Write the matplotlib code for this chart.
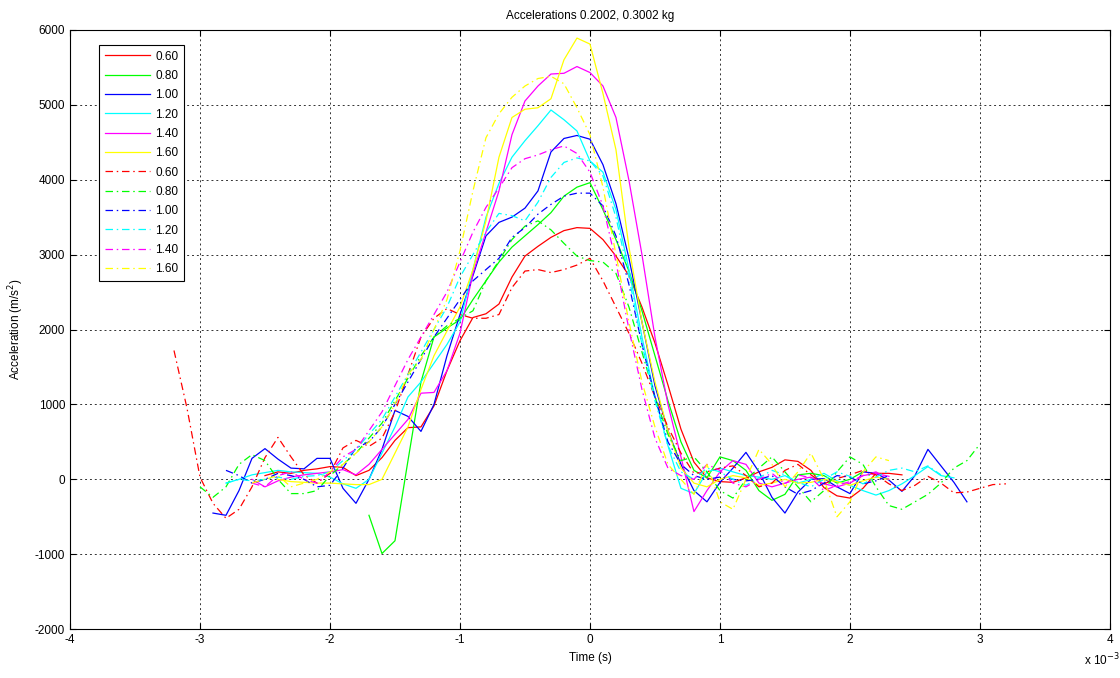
import numpy as np
import matplotlib
matplotlib.use("Agg")
import matplotlib.pyplot as plt

plt.rcParams['font.family'] = ['Liberation Sans', 'DejaVu Sans']
plt.rcParams['axes.unicode_minus'] = False

# sample step of the recordings, in ms
STEP = 0.1

labels = ['0.60', '0.80', '1.00', '1.20', '1.40', '1.60']
colors = ['#ff0000', '#00ff00', '#0000ff', '#00ffff', '#ff00ff', '#ffff00']

# first series set (solid lines): start time (ms) and accelerations (m/s^2)
start_a = [-2.5, -1.7, -2.9, -2.8, -2.6, -2.4]

acc_a_060 = [50, 100, 80, 120, 140, 170, 160, 50, 120, 290, 520, 690, 700, 980, 1450,
             1850, 2160, 2210, 2340, 2700, 2980, 3110, 3230, 3320, 3360, 3350, 3200,
             2980, 2720, 2300, 1820, 1260, 670, 230, 20, -30, -40, 20, 100, 160, 260,
             240, 120, -110, -220, -250, -120, 80, 80, 60]
acc_a_080 = [-480, -990, -820, 250, 1300, 1900, 2020, 2130, 2400, 2650, 2900, 3100,
             3250, 3400, 3560, 3780, 3900, 3960, 3600, 3200, 2780, 2250, 1650, 1050,
             500, 120, 20, 300, 250, 120, -150, -280, -200, 60, 80, 50, -50, 0, 100]
acc_a_100 = [-450, -480, -150, 280, 410, 270, 150, 140, 280, 280, -120, -320, 0, 400,
             920, 840, 640, 1000, 1650, 2200, 2720, 3250, 3430, 3500, 3620, 3850, 4370,
             4550, 4590, 4540, 4200, 3680, 2950, 2100, 1250, 650, 200, -150, -300, -40,
             150, 360, 100, -240, -450, -170, 0, 10, -100, -190, 100, 80, -10, -160, 50,
             400, 180, -40, -300]
acc_a_120 = [-50, 0, 60, 90, 120, 100, 90, 80, 30, -60, -120, 0, 350, 700, 1100, 1300,
             1550, 1800, 2100, 2800, 3500, 3950, 4300, 4520, 4720, 4930, 4800, 4650,
             4250, 4100, 3600, 2800, 1900, 1100, 450, -120, -190, 100, 150, 100, 50, 30,
             0, 50, -50, 0, 80, -20, -80, -150, -210, -150, -60, 50, 170, 50, 20]
acc_a_140 = [0, -100, -20, 30, 60, 80, 100, 130, 60, 200, 400, 600, 800, 1150, 1160,
             1450, 1950, 2750, 3300, 3850, 4600, 5050, 5250, 5410, 5420, 5510, 5430,
             5250, 4830, 3990, 3000, 1900, 1000, 300, -430, -150, 100, 250, 200, -50,
             -100, -50, 0, 30, -60, -100, -50, 50, 80, 40]
acc_a_160 = [0, -30, -40, -50, -50, -60, -70, -70, 0, 350, 700, 1200, 1650, 1980, 2300,
             2800, 3450, 4300, 4830, 4940, 4960, 5080, 5600, 5890, 5810, 5150, 4400,
             3100, 2100, 1300, 650, 150, -50, -100, 0, 50, 20, -80, -50, 0, -50, -40, 0,
             -30, -80, -20, 30, 0]

# second series set (dash-dot lines)
start_b = [-3.2, -3.0, -2.8, -2.8, -2.6, -2.6]

acc_b_060 = [1720, 950, 30, -320, -520, -400, -100, 290, 560, 300, 60, -50, 80, 420,
             520, 440, 550, 900, 1400, 1900, 2150, 2280, 2200, 2150, 2150, 2200, 2560,
             2780, 2800, 2760, 2800, 2860, 2950, 2650, 2300, 1950, 1550, 1100, 700, 350,
             80, 100, 150, 180, 50, -100, -50, 120, 200, 60, -60, 10, 60, 120, 60, -60,
             -150, -80, 40, -50, -180, -170, -120, -70, -60]
acc_b_080 = [-100, -240, -100, 200, 330, 250, 0, -190, -190, -150, 50, 200, 350, 550,
             750, 1050, 1350, 1650, 1900, 2050, 2150, 2250, 2650, 2920, 3200, 3380, 3450,
             3330, 3150, 2980, 2920, 2900, 2750, 2300, 1700, 1100, 600, 250, 300, 100,
             -150, -250, 0, 150, 300, 100, -100, -300, -150, 100, 300, 200, -100, -350,
             -400, -300, -200, -50, 150, 250, 470]
acc_b_100 = [120, 50, -50, 0, 80, 50, 0, -100, -80, 150, 420, 500, 700, 1000, 1300,
             1600, 1900, 2150, 2400, 2650, 2800, 2950, 3230, 3360, 3540, 3670, 3780,
             3820, 3820, 3650, 3250, 2600, 1800, 1100, 500, 200, 50, 0, 30, 0, -20, 0,
             50, -100, -200, -150, -50, 50, 30, -60, -20, 50]
acc_b_120 = [-50, 0, -20, 0, 30, 0, 40, 50, 100, 250, 400, 600, 800, 1100, 1400, 1700,
             2000, 2300, 2700, 3000, 3300, 3550, 3520, 3450, 3700, 4030, 4230, 4290,
             4250, 4050, 3500, 2700, 1800, 1050, 450, 100, 0, 150, 100, 0, -80, 20, 120,
             60, -40, -100, 0, 100, 40, -60, 30, 120, 150, 100, 180, 60]
acc_b_140 = [-50, -100, 50, 100, 0, -50, 100, 300, 400, 650, 900, 1250, 1600, 1900,
             2200, 2500, 2900, 3300, 3630, 3890, 4160, 4280, 4330, 4400, 4450, 4350,
             4100, 3650, 2900, 2000, 1200, 550, 150, 50, 0, 200, 120, -50, -100, 0, 80,
             -60, 60, 20, -150, -80, -30, 50, 100, 0]
acc_b_160 = [-50, 0, 50, -100, -50, 0, 100, 200, 350, 500, 700, 1000, 1400, 1600, 2000,
             2400, 3050, 3850, 4560, 4880, 5100, 5250, 5350, 5380, 5280, 4960, 4600,
             3900, 3000, 2100, 1300, 700, 200, 0, -200, 200, -300, -400, 0, 400, 200,
             -100, 100, 350, 0, -500, -300, 100, 300, 250]

series_a = [acc_a_060, acc_a_080, acc_a_100, acc_a_120, acc_a_140, acc_a_160]
series_b = [acc_b_060, acc_b_080, acc_b_100, acc_b_120, acc_b_140, acc_b_160]

fig = plt.figure(figsize=(11.2, 6.78), dpi=100)
ax = fig.add_axes([0.0625, 0.072, 0.9285, 0.884])

dashdot = (0, (6, 3, 1.2, 3))

for t0, acc, c, lab in zip(start_a, series_a, colors, labels):
    t = (t0 + STEP * np.arange(len(acc))) * 1e-3
    ax.plot(t, acc, color=c, lw=0.9, label=lab)

for t0, acc, c, lab in zip(start_b, series_b, colors, labels):
    t = (t0 + STEP * np.arange(len(acc))) * 1e-3
    ax.plot(t, acc, color=c, lw=0.9, linestyle=dashdot, label=lab)

ax.set_xlim(-4e-3, 4e-3)
ax.set_ylim(-2000, 6000)
ax.set_xticks(np.arange(-4, 5) * 1e-3)
ax.set_xticklabels([str(v) for v in range(-4, 5)])
ax.set_yticks(np.arange(-2000, 6001, 1000))

ax.grid(True, color='black', linestyle=(0, (2, 3)), linewidth=0.7, alpha=0.8)
ax.tick_params(direction='in', top=True, right=True, labelsize=8.5, length=4)
for sp in ax.spines.values():
    sp.set_linewidth(0.8)

ax.set_title('Accelerations 0.2002, 0.3002 kg', fontsize=8.5, pad=8)
ax.set_xlabel('Time (s)', fontsize=8.5, labelpad=4)
ax.set_ylabel('Acceleration (m/s$^2$)', fontsize=8.5, labelpad=6)
fig.text(0.968, 0.018, r'x 10$^{-3}$', fontsize=8.5)

leg = ax.legend(loc='upper left', bbox_to_anchor=(0.022, 0.985), fontsize=8.5,
                handlelength=3.8, handletextpad=0.5, labelspacing=0.62,
                borderpad=0.5, fancybox=False, framealpha=1, edgecolor='black')
leg.get_frame().set_linewidth(0.8)

fig.savefig('out.png', dpi=100)
